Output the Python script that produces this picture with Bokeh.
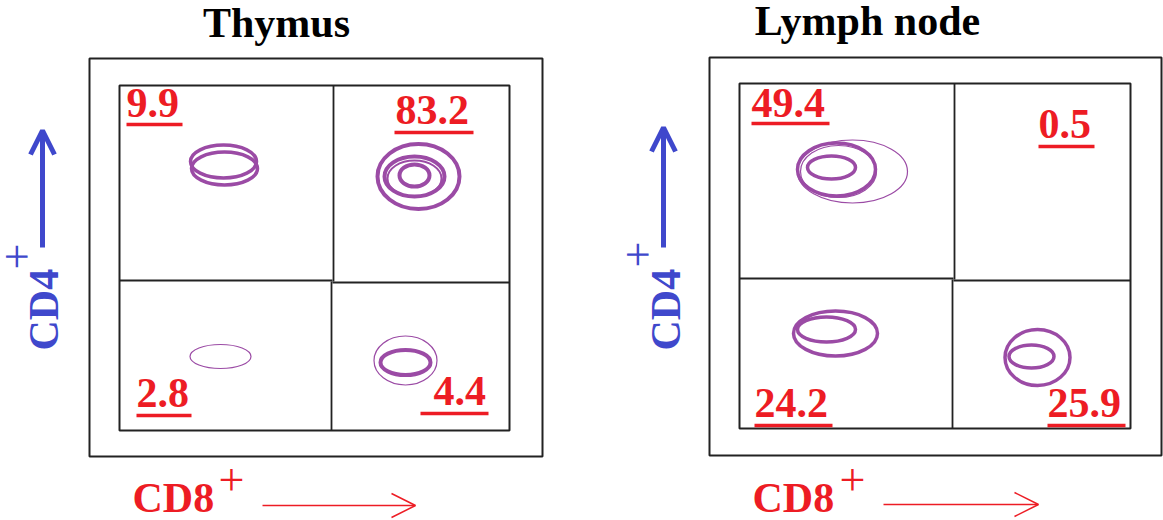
from math import pi
from bokeh.plotting import figure
from bokeh.models import Range1d, Arrow, OpenHead, ColumnDataSource
from bokeh.core.properties import value
from bokeh.embed import file_html
from bokeh.resources import INLINE

# ---------------- data ----------------
panels = ["Thymus", "Lymph node"]
quadrants = ["CD4+CD8-", "CD4+CD8+", "CD4-CD8-", "CD4-CD8+"]
thymus_pct = [9.9, 83.2, 2.8, 4.4]
lymph_pct = [49.4, 0.5, 24.2, 25.9]
x_marker = "CD8"
y_marker = "CD4"

# contour rings per panel (centre x, centre y, width, height, line weight)
thymus_cx = [223, 224, 418, 414, 414, 414, 220, 405, 405]
thymus_cy = [161, 168, 176, 176, 178, 175, 356, 360, 362]
thymus_w = [66, 66, 82, 60, 54, 30, 61, 63, 50]
thymus_h = [33, 33, 65, 40, 36, 22, 24, 49, 25]
thymus_lw = [3.5, 3.5, 4, 4, 2, 4, 1.2, 1.2, 4]

lymph_cx = [852, 836, 838, 831, 835, 826, 1037, 1031]
lymph_cy = [171, 169, 171, 167, 333, 329, 357, 356]
lymph_w = [110, 78, 76, 48, 84, 58, 65, 45]
lymph_h = [63, 53, 52, 23, 45, 25, 56, 23]
lymph_lw = [1.2, 3.5, 1.2, 3.5, 3.5, 3.5, 3.5, 3.5]

# ---------------- layout ----------------
RED = "#ed1c24"
PURPLE = "#9b4ba5"
BLUE = "#3f48cc"
BOX = "#222222"
FONT = value("Liberation Serif")
DY = 15  # correction of the renderer's alphabetic baseline

W, H = 1163, 520
p = figure(width=W, height=H, x_range=Range1d(0, W), y_range=Range1d(H, 0),
           output_backend="svg", toolbar_location=None, min_border=0,
           x_axis_location=None, y_axis_location=None)
p.grid.visible = False
p.outline_line_color = None
p.background_fill_color = "white"
p.border_fill_color = "white"

layout = [
    dict(outer=(89, 542, 58, 456), inner=(119, 509, 85, 430),
         vdiv=[(333, 85, 281), (331, 281, 430)], hdiv=[(119, 332, 280), (332, 509, 282)],
         title=(276, 37),
         labels=[(126, 117, 126, 182, 124), (395, 124, 394, 473, 132),
                 (136, 407, 136, 191, 415), (433, 405, 420, 488, 413)],
         cd4=(58, 350, 31, 269, 42, 247, 130),
         cd8=(132, 512, 218, 494, 262, 415, 505)),
    dict(outer=(709, 1161, 57, 455), inner=(739, 1130, 83, 428),
         vdiv=[(954, 83, 279), (952, 279, 428)], hdiv=[(739, 953, 278), (953, 1130, 280)],
         title=(867, 35),
         labels=[(751, 117, 751, 829, 123), (1038, 138, 1038, 1094, 146),
                 (754, 417, 754, 832, 425), (1047, 417, 1047, 1125, 425)],
         cd4=(680, 350, 652, 267, 663, 247, 127),
         cd8=(752, 512, 839, 494, 883, 1038, 504)),
]
pcts = [thymus_pct, lymph_pct]
contours = [(thymus_cx, thymus_cy, thymus_w, thymus_h, thymus_lw),
            (lymph_cx, lymph_cy, lymph_w, lymph_h, lymph_lw)]

for i, L in enumerate(layout):
    l, r, t, b = L["outer"]
    p.quad(left=[l], right=[r], top=[t], bottom=[b], fill_color=None, line_color=BOX, line_width=2)
    l, r, t, b = L["inner"]
    p.quad(left=[l], right=[r], top=[t], bottom=[b], fill_color=None, line_color=BOX, line_width=2)
    p.segment(x0=[v[0] for v in L["vdiv"]], y0=[v[1] for v in L["vdiv"]],
              x1=[v[0] for v in L["vdiv"]], y1=[v[2] for v in L["vdiv"]],
              line_color=BOX, line_width=1.8)
    p.segment(x0=[h[0] for h in L["hdiv"]], y0=[h[2] for h in L["hdiv"]],
              x1=[h[1] for h in L["hdiv"]], y1=[h[2] for h in L["hdiv"]],
              line_color=BOX, line_width=1.8)

    # title
    tx, ty = L["title"]
    p.text(x=[tx], y=[ty - DY], text=[panels[i]], text_font=FONT, text_font_style="bold",
           text_font_size="42px", text_color="black", text_align="center",
           text_baseline="alphabetic")

    # quadrant percentages with underline
    src = ColumnDataSource(dict(
        x=[lb[0] for lb in L["labels"]], y=[lb[1] - DY for lb in L["labels"]],
        text=[f"{v}" for v in pcts[i]], q=quadrants))
    p.text(x="x", y="y", text="text", source=src, text_font=FONT, text_font_style="bold",
           text_font_size="42px", text_color=RED, text_align="left", text_baseline="alphabetic")
    p.segment(x0=[lb[2] for lb in L["labels"]], x1=[lb[3] for lb in L["labels"]],
              y0=[lb[4] for lb in L["labels"]], y1=[lb[4] for lb in L["labels"]],
              line_color=RED, line_width=3.5)

    # contours
    cx, cy, cw, ch, clw = contours[i]
    for x_, y_, w_, h_, lw_ in zip(cx, cy, cw, ch, clw):
        p.ellipse(x=[x_], y=[y_], width=[w_], height=[h_], fill_color=None,
                  line_color=PURPLE, line_width=lw_)

    # CD4 axis label (rotated) and arrow
    bx, by, px, py, ax, ay0, ay1 = L["cd4"]
    p.text(x=[bx - DY], y=[by], text=[y_marker], angle=pi / 2, text_font=FONT,
           text_font_style="bold", text_font_size="42px", text_color=BLUE,
           text_align="left", text_baseline="alphabetic")
    p.text(x=[px - DY], y=[py], text=["+"], angle=pi / 2, text_font=FONT,
           text_font_size="46px", text_color=BLUE, text_align="left",
           text_baseline="alphabetic")
    p.add_layout(Arrow(end=OpenHead(size=24, line_color=BLUE, line_width=5),
                       x_start=ax, y_start=ay0, x_end=ax, y_end=ay1,
                       line_color=BLUE, line_width=5))

    # CD8 axis label and arrow
    bx, by, px, py, ax0, ax1, ay = L["cd8"]
    p.text(x=[bx], y=[by - DY], text=[x_marker], text_font=FONT, text_font_style="bold",
           text_font_size="42px", text_color=RED, text_align="left",
           text_baseline="alphabetic")
    p.text(x=[px], y=[py - DY], text=["+"], text_font=FONT, text_font_size="46px",
           text_color=RED, text_align="left", text_baseline="alphabetic")
    p.add_layout(Arrow(end=OpenHead(size=24, line_color=RED, line_width=1.5),
                       x_start=ax0, y_start=ay, x_end=ax1, y_end=ay,
                       line_color=RED, line_width=1.5))

open("out.html", "w").write(file_html(p, INLINE))
